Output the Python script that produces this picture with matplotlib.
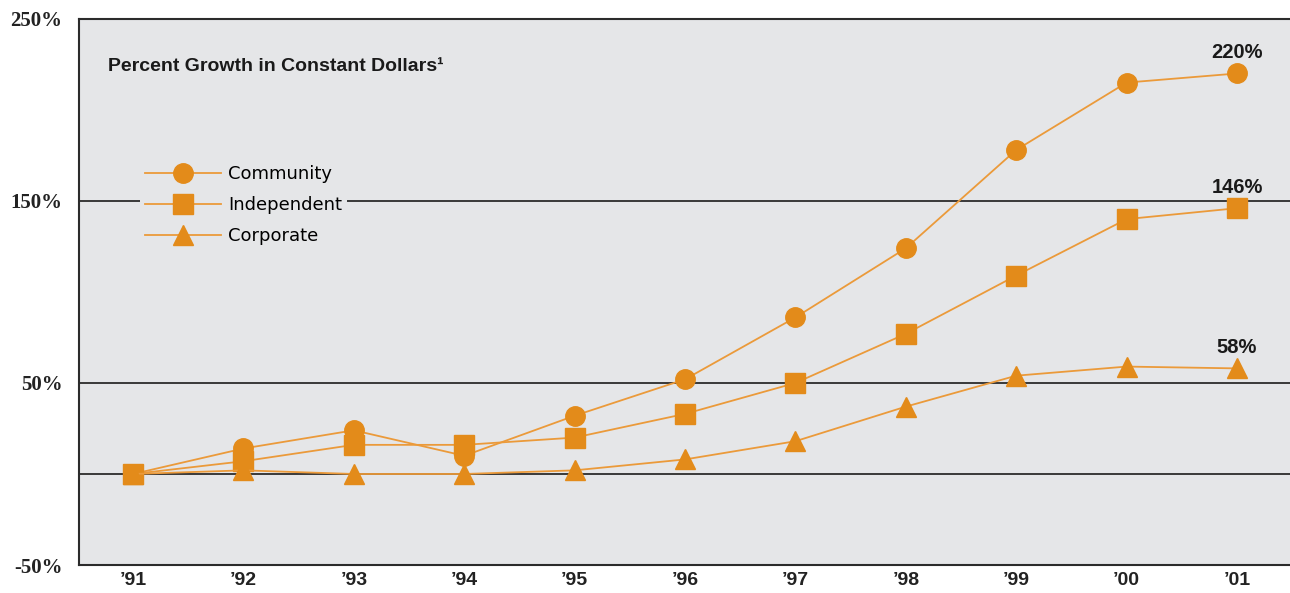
import matplotlib.pyplot as plt

years = ["\u201991", "\u201992", "\u201993", "\u201994", "\u201995", "\u201996",
         "\u201997", "\u201998", "\u201999", "\u201900", "\u201901"]
community = [0, 14, 24, 10, 32, 52, 86, 124, 178, 215, 220]
independent = [0, 7, 16, 16, 20, 33, 50, 77, 109, 140, 146]
corporate = [0, 2, 0, 0, 2, 8, 18, 37, 54, 59, 58]
end_labels = ["220%", "146%", "58%"]

bg = "#e5e6e8"
orange = "#e38b1a"
line_c = "#eb9a3a"
dark = "#2b2b2b"

fig = plt.figure(figsize=(12.9, 5.93), dpi=100)
ax = fig.add_axes([0.0612, 0.0472, 0.9388, 0.921])
ax.set_facecolor(bg)

x = list(range(len(years)))
series = [(community, "o", "Community"), (independent, "s", "Independent"),
          (corporate, "^", "Corporate")]
handles = []
for vals, mk, name in series:
    h, = ax.plot(x, vals, color=line_c, lw=1.3, marker=mk, markersize=14,
                 markerfacecolor=orange, markeredgecolor=orange, label=name, zorder=3)
    handles.append(h)

for y in [150, 50, 0]:
    ax.axhline(y, color=dark, lw=1.3, zorder=1)

ax.set_xlim(-0.49, 10.48)
ax.set_ylim(-50, 250)
ax.set_yticks([-50, 50, 150, 250])
ax.set_yticklabels(["-50%", "50%", "150%", "250%"], fontsize=15, fontweight="bold",
                   family=["Liberation Serif", "DejaVu Serif"], color="#222222")
ax.set_xticks(x)
ax.set_xticklabels(years, fontsize=14, fontweight="bold",
                   family=["Liberation Sans Narrow", "Liberation Sans", "DejaVu Sans"],
                   color="#222222")
ax.tick_params(axis="both", length=0)
ax.tick_params(axis="y", pad=12)
ax.tick_params(axis="x", pad=5)
for s in ["left", "bottom", "top"]:
    ax.spines[s].set_color(dark)
    ax.spines[s].set_linewidth(1.5)
ax.spines["right"].set_visible(False)

for vals, lab in zip([community, independent, corporate], end_labels):
    ax.annotate(lab, (x[-1], vals[-1]), xytext=(0, 15), textcoords="offset points",
                ha="center", va="center", fontsize=14.5, fontweight="bold",
                family=["Liberation Sans Narrow", "Liberation Sans", "DejaVu Sans"],
                color="#1a1a1a")

ax.text(0.024, 0.912, "Percent Growth in Constant Dollars\u00b9", transform=ax.transAxes,
        fontsize=14, fontweight="bold", color="#1a1a1a", va="center",
        family=["Liberation Sans", "DejaVu Sans"])

leg = ax.legend(handles=handles, loc="upper left", bbox_to_anchor=(0.05, 0.742),
                frameon=True, fontsize=13, handlelength=4.2, handletextpad=0.4,
                labelspacing=0.72, borderpad=0.3, borderaxespad=0)
leg.get_frame().set_facecolor(bg)
leg.get_frame().set_edgecolor("none")
leg.get_frame().set_alpha(1)
leg.set_zorder(5)

fig.savefig("out.png", dpi=100)
